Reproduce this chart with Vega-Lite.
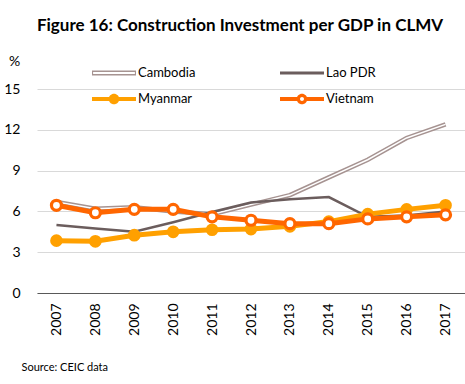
{
  "$schema": "https://vega.github.io/schema/vega-lite/v6.json",
  "autosize": {"type": "none"},
  "width": 428,
  "height": 204,
  "padding": {"left": 37, "top": 89, "right": 0, "bottom": 91},
  "background": "white",
  "title": {
    "text": "Figure 16: Construction Investment per GDP in CLMV",
    "font": "Lato",
    "fontSize": 17,
    "fontWeight": "bold",
    "color": "#000000",
    "anchor": "middle",
    "frame": "group",
    "dx": -11,
    "offset": 19
  },
  "data": {
    "values": [
      {"year": "2007", "country": "Cambodia", "value": 6.7},
      {"year": "2008", "country": "Cambodia", "value": 6.2},
      {"year": "2009", "country": "Cambodia", "value": 6.3},
      {"year": "2010", "country": "Cambodia", "value": 6.0},
      {"year": "2011", "country": "Cambodia", "value": 5.8},
      {"year": "2012", "country": "Cambodia", "value": 6.5},
      {"year": "2013", "country": "Cambodia", "value": 7.2},
      {"year": "2014", "country": "Cambodia", "value": 8.5},
      {"year": "2015", "country": "Cambodia", "value": 9.8},
      {"year": "2016", "country": "Cambodia", "value": 11.4},
      {"year": "2017", "country": "Cambodia", "value": 12.4},
      {"year": "2007", "country": "Lao PDR", "value": 5.0},
      {"year": "2008", "country": "Lao PDR", "value": 4.75},
      {"year": "2009", "country": "Lao PDR", "value": 4.5},
      {"year": "2010", "country": "Lao PDR", "value": 5.2},
      {"year": "2011", "country": "Lao PDR", "value": 5.95},
      {"year": "2012", "country": "Lao PDR", "value": 6.65},
      {"year": "2013", "country": "Lao PDR", "value": 6.9},
      {"year": "2014", "country": "Lao PDR", "value": 7.05},
      {"year": "2015", "country": "Lao PDR", "value": 5.6},
      {"year": "2016", "country": "Lao PDR", "value": 5.7},
      {"year": "2017", "country": "Lao PDR", "value": 6.0},
      {"year": "2007", "country": "Myanmar", "value": 3.85},
      {"year": "2008", "country": "Myanmar", "value": 3.8},
      {"year": "2009", "country": "Myanmar", "value": 4.25},
      {"year": "2010", "country": "Myanmar", "value": 4.5},
      {"year": "2011", "country": "Myanmar", "value": 4.65},
      {"year": "2012", "country": "Myanmar", "value": 4.7},
      {"year": "2013", "country": "Myanmar", "value": 4.9},
      {"year": "2014", "country": "Myanmar", "value": 5.25},
      {"year": "2015", "country": "Myanmar", "value": 5.8},
      {"year": "2016", "country": "Myanmar", "value": 6.15},
      {"year": "2017", "country": "Myanmar", "value": 6.45},
      {"year": "2007", "country": "Vietnam", "value": 6.45},
      {"year": "2008", "country": "Vietnam", "value": 5.9},
      {"year": "2009", "country": "Vietnam", "value": 6.15},
      {"year": "2010", "country": "Vietnam", "value": 6.15},
      {"year": "2011", "country": "Vietnam", "value": 5.6},
      {"year": "2012", "country": "Vietnam", "value": 5.35},
      {"year": "2013", "country": "Vietnam", "value": 5.1},
      {"year": "2014", "country": "Vietnam", "value": 5.1},
      {"year": "2015", "country": "Vietnam", "value": 5.45},
      {"year": "2016", "country": "Vietnam", "value": 5.6},
      {"year": "2017", "country": "Vietnam", "value": 5.75}
    ]
  },
  "encoding": {
    "x": {
      "field": "year",
      "type": "ordinal",
      "scale": {"type": "point", "padding": 0.5},
      "axis": {
        "title": "Source: CEIC data",
        "titleFont": "Lato",
        "titleFontSize": 11,
        "titleFontWeight": "normal",
        "titleColor": "#000000",
        "titleAnchor": "start",
        "titleAlign": "left",
        "titleBaseline": "middle",
        "titleX": -16,
        "titleY": 74,
        "labelAngle": -90,
        "labelFont": "Lato",
        "labelFontSize": 14,
        "labelColor": "#000000",
        "labelPadding": 10,
        "ticks": false,
        "domainColor": "#595959",
        "domainWidth": 1.2,
        "grid": false
      }
    },
    "y": {
      "field": "value",
      "type": "quantitative",
      "scale": {"domain": [0, 15], "nice": false},
      "axis": {
        "values": [0, 3, 6, 9, 12, 15],
        "title": "%",
        "titleAngle": 0,
        "titleFont": "Lato",
        "titleFontSize": 14,
        "titleFontWeight": "normal",
        "titleColor": "#000000",
        "titleAlign": "center",
        "titleBaseline": "middle",
        "titleX": -23,
        "titleY": -28,
        "labelFont": "Lato",
        "labelFontSize": 14,
        "labelColor": "#000000",
        "labelPadding": 17,
        "ticks": false,
        "domain": false,
        "grid": true,
        "gridColor": "#d9d9d9",
        "gridWidth": 1
      }
    }
  },
  "layer": [
    {
      "transform": [{"filter": "datum.country === 'Cambodia'"}],
      "mark": {"type": "line", "color": "#a69391", "strokeWidth": 4.5}
    },
    {
      "transform": [{"filter": "datum.country === 'Cambodia'"}],
      "mark": {"type": "line", "color": "#ffffff", "strokeWidth": 1.5}
    },
    {
      "transform": [{"filter": "datum.country === 'Lao PDR'"}],
      "mark": {"type": "line", "color": "#6b5d5d", "strokeWidth": 2.5}
    },
    {
      "transform": [{"filter": "datum.country === 'Myanmar'"}],
      "mark": {"type": "line", "color": "#ffa000", "strokeWidth": 5}
    },
    {
      "transform": [{"filter": "datum.country === 'Myanmar'"}],
      "mark": {"type": "point", "shape": "circle", "filled": true, "color": "#ffa000", "opacity": 1, "size": 160}
    },
    {
      "transform": [{"filter": "datum.country === 'Vietnam'"}],
      "mark": {"type": "line", "color": "#ff6600", "strokeWidth": 5}
    },
    {
      "transform": [{"filter": "datum.country === 'Vietnam'"}],
      "mark": {"type": "point", "shape": "circle", "filled": false, "fill": "#ffffff", "stroke": "#ff6600", "strokeWidth": 3.2, "opacity": 1, "size": 100}
    },
    {
      "mark": {"type": "point", "filled": true, "opacity": 0},
      "encoding": {
        "color": {
          "field": "country",
          "type": "nominal",
          "scale": {
            "domain": ["Cambodia", "Lao PDR", "Myanmar", "Vietnam"],
            "range": ["#a69391", "#6b5d5d", "#ffa000", "#ff6600"]
          },
          "legend": {
            "title": null,
            "orient": "none",
            "direction": "horizontal",
            "legendX": 55,
            "legendY": -24,
            "columns": 2,
            "columnPadding": 84,
            "rowPadding": 10,
            "clipHeight": 16,
            "padding": 0,
            "symbolSize": 1936,
            "symbolStrokeWidth": 0,
            "symbolOpacity": 1,
            "labelFont": "Lato",
            "labelFontSize": 13,
            "labelColor": "#000000",
            "labelOffset": 2
          }
        },
        "shape": {
          "field": "country",
          "type": "nominal",
          "scale": {
            "domain": ["Cambodia", "Lao PDR", "Myanmar", "Vietnam"],
            "range": [
              "M-1,-0.11H1V0.11H-1Z M-0.95,-0.04V0.04H0.95V-0.04Z",
              "M-1,-0.07H1V0.07H-1Z",
              "M-1,-0.09H1V0.09H-1Z M-0.24,0A0.24,0.24 0 1,1 0.24,0A0.24,0.24 0 1,1 -0.24,0Z",
              "M-1,-0.09H-0.2V0.09H-1Z M0.2,-0.09H1V0.09H0.2Z M-0.24,0A0.24,0.24 0 1,1 0.24,0A0.24,0.24 0 1,1 -0.24,0Z M-0.09,0A0.09,0.09 0 1,0 0.09,0A0.09,0.09 0 1,0 -0.09,0Z"
            ]
          },
          "legend": {
            "title": null,
            "orient": "none",
            "direction": "horizontal",
            "legendX": 55,
            "legendY": -24,
            "columns": 2,
            "columnPadding": 84,
            "rowPadding": 10,
            "clipHeight": 16,
            "padding": 0,
            "symbolSize": 1936,
            "symbolStrokeWidth": 0,
            "symbolOpacity": 1,
            "labelFont": "Lato",
            "labelFontSize": 13,
            "labelColor": "#000000",
            "labelOffset": 2
          }
        }
      }
    }
  ],
  "config": {
    "view": {"stroke": null}
  }
}
